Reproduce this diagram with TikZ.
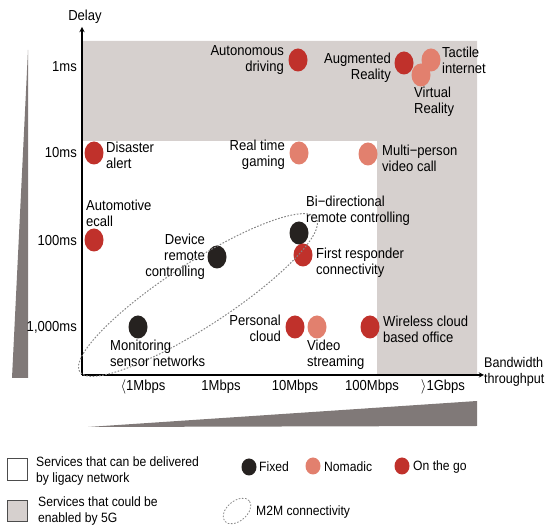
\documentclass[tikz,border=0pt]{standalone}
\usepackage{fontspec}
\setmainfont{Liberation Sans}[FakeStretch=0.9]
\usetikzlibrary{shapes.geometric,positioning}
\definecolor{fivegray}{RGB}{214,208,206}
\definecolor{wedgegray}{RGB}{128,121,120}
\definecolor{fixedcol}{RGB}{38,34,32}
\definecolor{nomadcol}{RGB}{226,128,110}
\definecolor{gocol}{RGB}{192,49,43}
\definecolor{m2mcol}{RGB}{135,135,135}
\begin{document}
\begin{tikzpicture}[x=1pt,y=-1pt,>=stealth,
  lbl/.style={inner sep=0pt,font=\fontsize{14.5}{15.8}\selectfont},
  leglbl/.style={inner sep=0pt,font=\fontsize{13.5}{15.5}\selectfont,align=left,anchor=west},
  basedot/.style={ellipse,inner sep=0pt,minimum width=19pt,minimum height=23pt},
  fixeddot/.style={basedot,fill=fixedcol},
  nomaddot/.style={basedot,fill=nomadcol},
  godot/.style={basedot,fill=gocol},
  legdot/.style={minimum width=15pt,minimum height=17pt},
  m2mline/.style={draw=m2mcol,line width=1pt,dash pattern=on 1.6pt off 1.6pt},
  legbox/.style={draw=black!70,line width=1pt}]
\useasboundingbox (0,0) rectangle (547,526);

% 5G area and wedges
\fill[fivegray] (82,41) -- (477,41) -- (477,375) -- (377,375) -- (377,141) -- (82,141) -- cycle;
\fill[wedgegray] (28,50) -- (28,378) -- (12,378) -- cycle;
\fill[wedgegray] (88,427) -- (477,401) -- (477,426) -- cycle;

% axes
\coordinate (origin) at (82,375);
\coordinate (ytip) at (82,27);
\coordinate (xtip) at (484,375);
\draw[->,line width=1.3pt] (origin) -- (ytip);
\draw[->,line width=1.3pt] (origin) -- (xtip);
\node[lbl] (delay) at (85,17) {Delay};
\node[lbl,anchor=west,align=left,font=\fontsize{14}{15.8}\selectfont] (bw) at (484,372) {Bandwidth\\throughput};

\node[lbl,anchor=east] (d1) at (77,67) {1ms};
\node[lbl,anchor=east] (d10) at (77,153) {10ms};
\node[lbl,anchor=east] (d100) at (77,241) {100ms};
\node[lbl,anchor=east] (d1000) at (77,327) {1,000ms};

\node[lbl] (r1) at (143,387) {$\langle$1Mbps};
\node[lbl] (r2) at (221,387) {1Mbps};
\node[lbl] (r3) at (295,387) {10Mbps};
\node[lbl] (r4) at (372,387) {100Mbps};
\node[lbl] (r5) at (443,387) {$\rangle$1Gbps};

% services
\node[godot] (auto) at (298,60) {};
\node[lbl,anchor=east,align=right] (autot) at (284,60) {Autonomous\\driving};
\node[nomaddot] (tact) at (431,60) {};
\node[nomaddot] (vr) at (421,75) {};
\node[godot] (ar) at (404,63) {};
\node[lbl,anchor=east,align=right] (art) at (391,68) {Augmented\\Reality};
\node[lbl,anchor=west,align=left] (tactt) at (442,60) {Tactile\\internet};
\node[lbl,anchor=west,align=left] (vrt) at (414,102) {Virtual\\Reality};

\node[godot] (disa) at (94,153) {};
\node[lbl,anchor=west,align=left] (disat) at (106,155) {Disaster\\alert};
\node[nomaddot] (game) at (299,153) {};
\node[lbl,anchor=east,align=right] (gamet) at (285,155) {Real time\\gaming};
\node[nomaddot] (video) at (368,154) {};
\node[lbl,anchor=west,align=left] (videot) at (382,158) {Multi−person\\video call};

\node[godot] (ecall) at (94,240) {};
\node[lbl,anchor=west,align=left] (ecallt) at (86,213) {Automotive\\ecall};
\node[fixeddot] (devrc) at (217,257) {};
\node[lbl,anchor=east,align=right] (devrct) at (205,257) {Device\\remote\\controlling};
\node[fixeddot] (birc) at (299,233) {};
\node[godot] (first) at (303,255) {};
\node[lbl,anchor=west,align=left] (birct) at (306,211) {Bi−directional\\remote controlling};
\node[lbl,anchor=west,align=left] (firstt) at (316,263) {First responder\\connectivity};

\node[fixeddot] (sensor) at (138,327) {};
\node[lbl,anchor=west,align=left] (sensort) at (110,353) {Monitoring\\sensor networks};
\node[godot] (cloud) at (295,327) {};
\node[lbl,anchor=east,align=right] (cloudt) at (281,328) {Personal\\cloud};
\node[nomaddot] (stream) at (317,327) {};
\node[lbl,anchor=west,align=left] (streamt) at (307,355) {Video\\streaming};
\node[godot] (office) at (370,327) {};
\node[lbl,anchor=west,align=left] (officet) at (383,329) {Wireless cloud\\based office};

% M2M group
\node[ellipse,m2mline,rotate=33,minimum width=282pt,minimum height=64pt] (m2m) at (198,295) {};

% legend
\draw[legbox] (7,459) rectangle (27,481);
\node[leglbl] (legacyt) at (36,471) {Services that can be delivered\\by ligacy network};
\draw[legbox,fill=fivegray] (7,501) rectangle (27,522);
\node[leglbl] (fivegt) at (38,511) {Services that could be\\enabled by 5G};
\node[fixeddot,legdot] (legfixed) at (249,467) {};
\node[leglbl] (legfixedt) at (259,467) {Fixed};
\node[nomaddot,legdot] (legnomad) at (313,466) {};
\node[leglbl] (legnomadt) at (324,467) {Nomadic};
\node[godot,legdot] (leggo) at (402,466) {};
\node[leglbl] (leggot) at (413,467) {On the go};
\node[ellipse,m2mline,line width=0.8pt,rotate=40,minimum width=32pt,minimum height=20pt] (legm2m) at (237,511) {};
\node[leglbl] (legm2mt) at (256,512) {M2M connectivity};
\end{tikzpicture}
\end{document}
